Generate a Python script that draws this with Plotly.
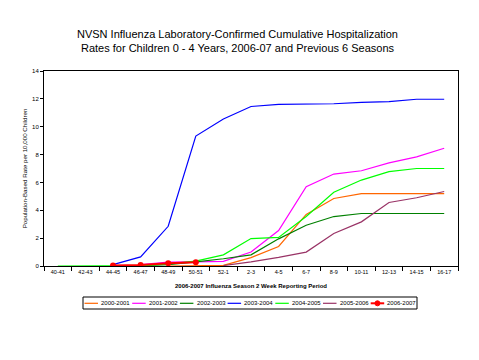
import plotly.graph_objects as go

periods = ["40-41", "42-43", "44-45", "46-47", "48-49", "50-51", "52-1", "2-3",
           "4-5", "6-7", "8-9", "10-11", "12-13", "14-15", "16-17"]

s2000_2001 = [None, None, None, None, 0.0, 0.0, 0.05, 0.6, 1.4, 3.7, 4.85, 5.2, 5.2, 5.2, 5.2]
s2001_2002 = [None, None, None, 0.1, 0.28, 0.29, 0.33, 1.0, 2.55, 5.7, 6.6, 6.84, 7.4, 7.84, 8.45]
s2002_2003 = [None, None, None, 0.02, 0.1, 0.3, 0.52, 0.8, 1.95, 2.93, 3.55, 3.77, 3.77, 3.77, 3.77]
s2003_2004 = [None, None, 0.1, 0.65, 2.85, 9.33, 10.55, 11.45, 11.6, 11.62, 11.65, 11.75, 11.8, 11.97, 11.97]
s2004_2005 = [0.0, 0.0, 0.0, 0.02, 0.15, 0.35, 0.8, 1.97, 2.05, 3.55, 5.3, 6.17, 6.77, 7.0, 7.0]
s2005_2006 = [None, None, None, None, None, None, 0.03, 0.29, 0.62, 1.0, 2.33, 3.17, 4.56, 4.9, 5.35]
s2006_2007 = [None, None, 0.03, 0.07, 0.2, 0.27, None, None, None, None, None, None, None, None, None]

series_names = ["2000-2001", "2001-2002", "2002-2003", "2003-2004", "2004-2005", "2005-2006", "2006-2007"]
series_values = [s2000_2001, s2001_2002, s2002_2003, s2003_2004, s2004_2005, s2005_2006, s2006_2007]
series_colors = ["#FF6600", "#FF00FF", "#008000", "#0000FF", "#00FF00", "#993366", "#FF0000"]

font_family = "Liberation Sans, Arial, sans-serif"

fig = go.Figure()
for name, vals, col in zip(series_names, series_values, series_colors):
    if name == "2006-2007":
        fig.add_trace(go.Scatter(x=periods, y=vals, name=name, mode="lines+markers",
                                 line=dict(color=col, width=2),
                                 marker=dict(color=col, size=6, symbol="circle")))
    else:
        fig.add_trace(go.Scatter(x=periods, y=vals, name=name, mode="lines",
                                 line=dict(color=col, width=1.2)))

# page has an 8px body margin, so the figure is shrunk by that amount
OFF = 8
W, H = 479 - OFF, 360 - OFF
ML, MR, MT = 44 - OFF, 21, 71 - OFF
ph = 195
MB = H - MT - ph
pw = W - ML - MR

def px_x(px):  # page pixel -> paper x
    return (px - OFF - ML) / pw

def px_y(py):  # page pixel -> paper y
    return (H - MB - (py - OFF)) / ph

shapes = []
annotations = []
box_l, box_r, box_t, box_b = 83, 417, 297, 309
shapes.append(dict(type="rect", xref="paper", yref="paper",
                   x0=px_x(box_l), x1=px_x(box_r), y0=px_y(box_b), y1=px_y(box_t),
                   line=dict(color="black", width=1), fillcolor="white", layer="above"))
step = 47.7
x_start = 84.5
ymid = 303.3
for i, (name, col) in enumerate(zip(series_names, series_colors)):
    lx0 = x_start + i * step
    lx1 = lx0 + 13.5
    wid = 2 if name == "2006-2007" else 1.2
    shapes.append(dict(type="line", xref="paper", yref="paper",
                       x0=px_x(lx0), x1=px_x(lx1), y0=px_y(ymid), y1=px_y(ymid),
                       line=dict(color=col, width=wid), layer="above"))
    if name == "2006-2007":
        cx = (lx0 + lx1) / 2
        shapes.append(dict(type="circle", xref="paper", yref="paper",
                           x0=px_x(cx - 2.5), x1=px_x(cx + 2.5),
                           y0=px_y(ymid + 2.5), y1=px_y(ymid - 2.5),
                           line=dict(color=col, width=1), fillcolor=col, layer="above"))
    annotations.append(dict(text=name, xref="paper", yref="paper",
                            x=px_x(lx1 + 1.2), y=px_y(ymid), xanchor="left", yanchor="middle",
                            showarrow=False, font=dict(size=6, color="black", family=font_family)))

fig.update_layout(
    width=W, height=H,
    margin=dict(l=ML, r=MR, t=MT, b=MB, autoexpand=False),
    paper_bgcolor="white", plot_bgcolor="white",
    font=dict(family=font_family, size=6, color="black"),
    title=dict(text="NVSN Influenza Laboratory-Confirmed Cumulative Hospitalization<br>Rates for Children 0 - 4 Years, 2006-07 and Previous 6 Seasons",
               x=(237.5 - OFF) / W, xanchor="center", y=1 - 30 / H, yanchor="top",
               font=dict(size=11, family=font_family, color="black")),
    xaxis=dict(type="category", categoryorder="array", categoryarray=periods,
               range=[-0.5, 14.5], showgrid=False, zeroline=False, automargin=False,
               showline=True, linecolor="black", linewidth=1, mirror=True,
               ticks="outside", tickson="boundaries", ticklen=4, tickcolor="black",
               tickfont=dict(size=5.5),
               title=dict(text="<b>2006-2007 Influenza Season 2 Week Reporting Period</b>",
                          font=dict(size=6), standoff=10)),
    yaxis=dict(range=[0, 14], dtick=2, showgrid=False, zeroline=False, automargin=False,
               showline=True, linecolor="black", linewidth=1, mirror=True,
               ticks="outside", ticklen=3, tickcolor="black",
               tickfont=dict(size=6),
               title=dict(text="Population-Based Rate per 10,000 Children",
                          font=dict(size=6.2), standoff=3)),
    showlegend=False,
    shapes=shapes,
    annotations=annotations,
)

fig.write_html("out.html")
